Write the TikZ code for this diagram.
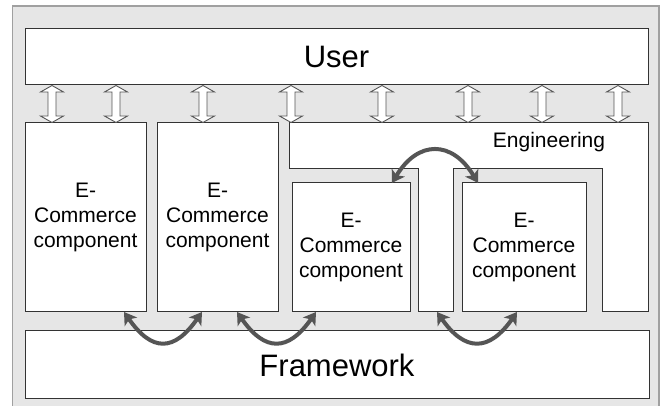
\documentclass[tikz,border=0pt]{standalone}
\usepackage{fontspec}
\setmainfont{Liberation Sans}
\usetikzlibrary{arrows.meta,calc}
\definecolor{panelgray}{HTML}{E6E6E6}
\definecolor{panelrim}{HTML}{A0A0A0}
\definecolor{linkgray}{HTML}{555555}
\definecolor{rimdark}{HTML}{333333}

\begin{document}
\begin{tikzpicture}[x=1pt,y=-1pt,
  box/.style={draw=rimdark, fill=white, line width=1pt, inner sep=0pt, outer sep=0pt, align=center},
  comp/.style={box, font=\fontsize{21}{25}\selectfont},
  bar/.style={box, font=\fontsize{31}{34}\selectfont},
  link/.style={draw=linkgray, line width=4pt,
    {Stealth[length=12pt,width=15pt,inset=3pt]}-{Stealth[length=12pt,width=15pt,inset=3pt]}},
  hollow/.style={draw=linkgray, fill=white, line width=0.9pt, line join=miter},
  updown/.pic={\path[hollow] (0,-18.5) -- (11.5,-12) -- (4,-12) -- (4,12) -- (11.5,12)
    -- (0,18.5) -- (-11.5,12) -- (-4,12) -- (-4,-12) -- (-11.5,-12) -- cycle;}
]
\useasboundingbox (0,0) rectangle (665,406);
\clip (0,0) rectangle (665,406);

% grey panel, open at the bottom
\draw[fill=panelgray, draw=panelrim, line width=1.5pt] (12.5,6) rectangle (659,440);

% top and bottom layers
\node[bar, minimum width=623pt, minimum height=56pt] (user) at (336.5,57) {User};
\node[bar, minimum width=624pt, minimum height=68pt] (frame) at (337,365) {Framework};

% engineering comb
\draw[rimdark, fill=white, line width=1pt]
  (289,123) -- (648,123) -- (648,312) -- (602,312) -- (602,169) -- (453,169)
  -- (453,312) -- (418,312) -- (418,169) -- (289,169) -- cycle;
\node[font=\fontsize{21}{24}\selectfont] (eng) at (549,142) {Engineering};

% components
\node[comp, minimum width=121pt, minimum height=189pt] (b1) at (85.5,217.5) {E-\\Commerce\\component};
\node[comp, minimum width=121pt, minimum height=189pt] (b2) at (217.5,217.5) {E-\\Commerce\\component};
\node[comp, minimum width=118pt, minimum height=129pt] (b3) at (351,247.5) {E-\\Commerce\\component};
\node[comp, minimum width=124pt, minimum height=129pt] (b4) at (524,247.5) {E-\\Commerce\\component};

% hollow links to the user layer
\foreach \x in {52,116,203,291,382,468,542,618}
  \pic at ($(user.south -| \x,0)!0.5!(b1.north -| \x,0)$) {updown};

% link end points
\coordinate (l1a) at ($(b1.south east)+(-22,0)$);
\coordinate (l1b) at ($(b2.south west)+(45,0)$);
\coordinate (l2a) at ($(b2.south east)+(-41,0)$);
\coordinate (l2b) at ($(b3.south west)+(24,0)$);
\coordinate (l3a) at (437,312);
\coordinate (l3b) at ($(b4.south west)+(55,0)$);
\coordinate (l4a) at ($(b3.north east)+(-18,0)$);
\coordinate (l4b) at ($(b4.north west)+(16,0)$);

% dark links
\draw[link] (l1a) .. controls +(28,40) and +(-28,40) .. (l1b);
\draw[link] (l2a) .. controls +(28,40) and +(-28,40) .. (l2b);
\draw[link] (l3a) .. controls +(28,40) and +(-28,40) .. (l3b);
\draw[link] (l4a) .. controls +(26,-43) and +(-26,-43) .. (l4b);
\end{tikzpicture}
\end{document}
